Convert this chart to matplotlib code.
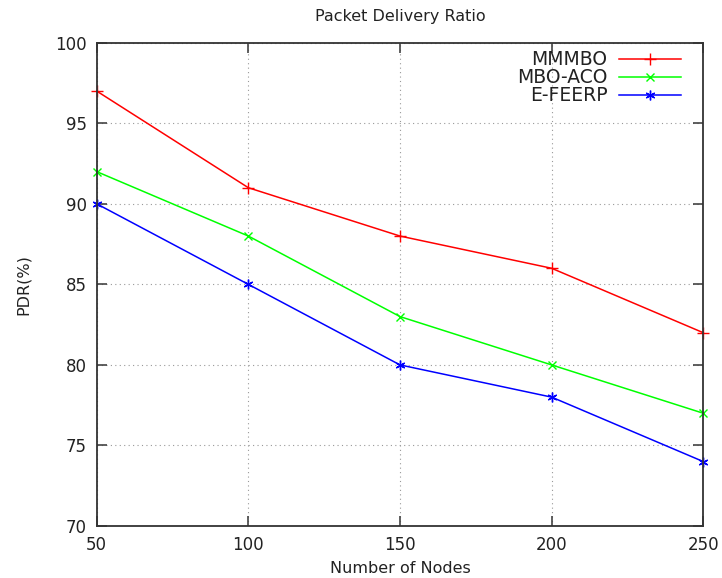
import matplotlib.pyplot as plt

nodes = [50, 100, 150, 200, 250]
mmmbo = [97, 91, 88, 86, 82]
mbo_aco = [92, 88, 83, 80, 77]
e_feerp = [90, 85, 80, 78, 74]

fig = plt.figure(figsize=(7.22, 5.78), dpi=100)
ax = fig.add_axes([0.134, 0.09, 0.840, 0.836])

ax.plot(nodes, mmmbo, color='#ff0000', marker='+', markersize=8, lw=1.1, label='MMMBO', clip_on=False)
ax.plot(nodes, mbo_aco, color='#00ff00', marker='x', markersize=6, lw=1.1, label='MBO-ACO', clip_on=False)
ax.plot(nodes, e_feerp, color='#0000ff', marker=(6, 2, 0), markersize=7, lw=1.1, label='E-FEERP', clip_on=False)

ax.set_xlim(50, 250)
ax.set_ylim(70, 100)
ax.set_xticks(nodes)
ax.set_yticks(range(70, 101, 5))
ax.tick_params(direction='in', top=True, right=True, labelsize=12, length=7,
               width=1.2, color='#444444', labelcolor='#222222', pad=7)
ax.grid(True, color='#999999', linestyle=(0, (1, 3)), lw=0.8)
for s in ax.spines.values():
    s.set_linewidth(1.3)
    s.set_color('#333333')

ax.set_title('Packet Delivery Ratio', fontsize=11.5, pad=16, color='#222222')
ax.set_xlabel('Number of Nodes', fontsize=11.5, labelpad=5, color='#222222')
ax.set_ylabel('PDR(%)', fontsize=11.5, labelpad=18, color='#222222')

ax.legend(loc='upper right', bbox_to_anchor=(0.975, 1.0), frameon=False, markerfirst=False,
          prop={'size': 13.5}, handlelength=3.3, handletextpad=0.6, borderaxespad=0.0,
          labelspacing=-0.05, labelcolor='#222222')

fig.savefig('out.png', dpi=100)
